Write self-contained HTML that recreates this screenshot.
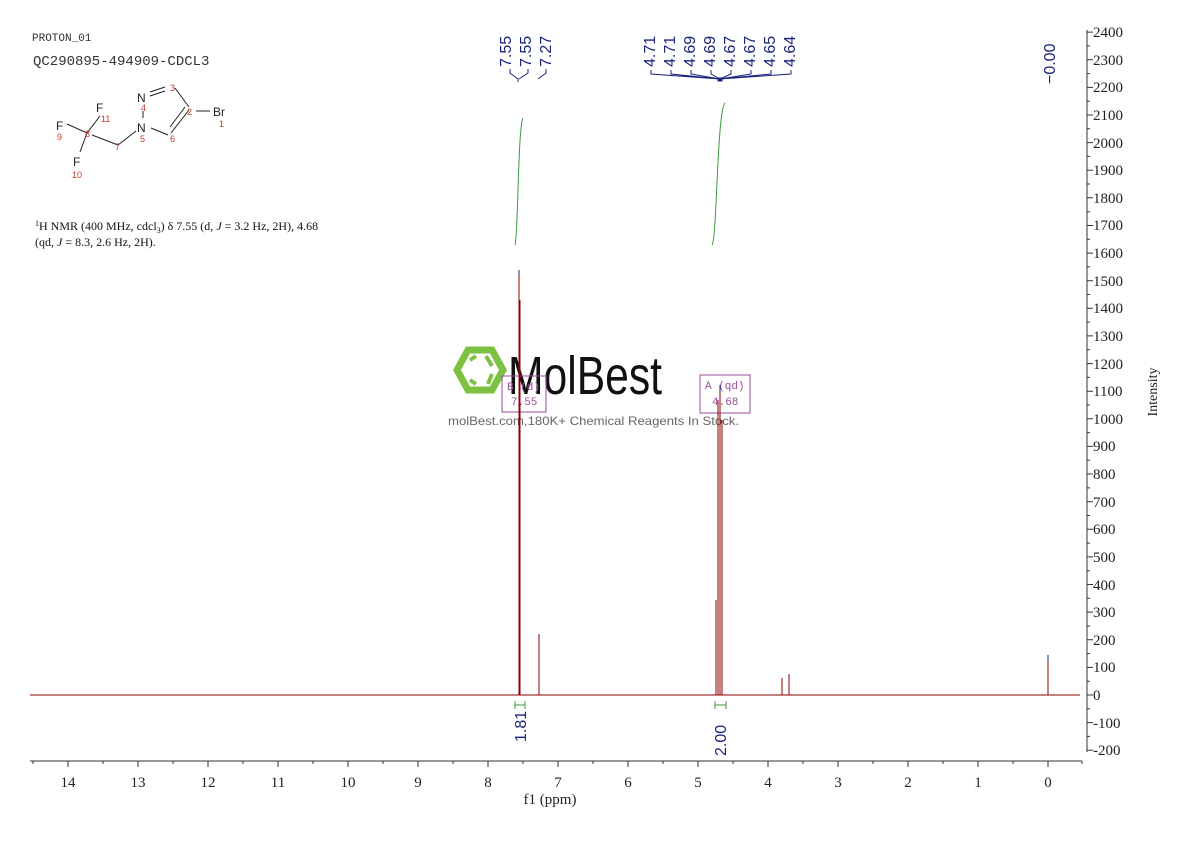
<!DOCTYPE html>
<html><head><meta charset="utf-8"><style>
body{margin:0;background:#fff;width:1190px;height:841px;overflow:hidden}
.se{font-family:"Liberation Serif",serif}
.sa{font-family:"Liberation Sans",sans-serif}
.mo{font-family:"Liberation Mono",monospace}
</style></head><body>
<svg width="1190" height="841" viewBox="0 0 1190 841" xmlns="http://www.w3.org/2000/svg">
<text class="mo" x="32" y="41" font-size="11" fill="#333">PROTON_01</text>
<text class="mo" x="33" y="65" font-size="14" fill="#333">QC290895-494909-CDCL3</text>
<g stroke="#222" stroke-width="1" fill="none">
<line x1="67" y1="124" x2="87" y2="133"/><line x1="87" y1="133" x2="80" y2="152"/><line x1="87" y1="133" x2="100" y2="116"/>
<line x1="92" y1="135" x2="118" y2="145"/><line x1="118" y1="145" x2="136" y2="131"/>
<line x1="151" y1="128" x2="168" y2="135"/><line x1="143" y1="111" x2="143" y2="118"/>
<line x1="150" y1="92" x2="165" y2="87"/><line x1="150" y1="96" x2="165" y2="91"/>
<line x1="175" y1="88" x2="189" y2="107"/><line x1="189" y1="110" x2="171" y2="133"/><line x1="185" y1="107" x2="170" y2="127"/>
<line x1="196" y1="111" x2="210" y2="111"/>
</g>
<g class="sa" font-size="12" fill="#222">
<text class="sa" x="56" y="130">F</text><text class="sa" x="96" y="112">F</text><text class="sa" x="73" y="166">F</text>
<text class="sa" x="137" y="102">N</text><text class="sa" x="137" y="132">N</text><text class="sa" x="213" y="116">Br</text>
</g>
<g font-size="9" fill="#c0392b">
<text class="sa" x="57" y="140">9</text><text class="sa" x="101" y="122">11</text><text class="sa" x="85" y="137">8</text><text class="sa" x="72" y="178">10</text>
<text class="sa" x="115" y="150">7</text><text class="sa" x="140" y="142">5</text><text class="sa" x="141" y="111">4</text><text class="sa" x="170" y="91">3</text>
<text class="sa" x="187" y="115">2</text><text class="sa" x="170" y="142">6</text><text class="sa" x="219" y="127">1</text>
</g>
<text class="se" x="35" y="230" font-size="12" fill="#111"><tspan font-size="8" dy="-4">1</tspan><tspan dy="4">H NMR (400 MHz, cdcl</tspan><tspan font-size="8" dy="3">3</tspan><tspan dy="-3">) δ 7.55 (d, </tspan><tspan font-style="italic">J</tspan> = 3.2 Hz, 2H), 4.68</text>
<text class="se" x="35" y="246" font-size="12" fill="#111">(qd, <tspan font-style="italic">J</tspan> = 8.3, 2.6 Hz, 2H).</text>
<!-- watermark -->
<g stroke="#7dc142" fill="none">
<polygon points="457,370 468,350 492,350 503,370 492,390 468,390" stroke-width="7"/>
<path d="M470,360 L476,356 M486,356 L492,366 M470,380 L476,384 M488,384 L492,374" stroke-width="4"/>
</g>
<text class="sa" x="508" y="394" font-size="54" fill="#111" textLength="154" lengthAdjust="spacingAndGlyphs">MolBest</text>
<rect x="502" y="376" width="44" height="36" fill="none" stroke="#9b4e9b"/>
<text class="mo" x="507" y="390" font-size="11" fill="#9b4e9b">B (d)</text><text class="mo" x="511" y="405" font-size="11" fill="#9b4e9b">7.55</text>
<rect x="700" y="375" width="50" height="38" fill="none" stroke="#9b4e9b"/>
<text class="mo" x="705" y="389" font-size="11" fill="#9b4e9b">A (qd)</text><text class="mo" x="712" y="405" font-size="11" fill="#9b4e9b">4.68</text>
<text class="sa" x="448" y="425" font-size="12" fill="#666" textLength="291" lengthAdjust="spacingAndGlyphs">molBest.com,180K+ Chemical Reagents In Stock.</text>
<!-- spectrum -->
<g stroke="#8b0000" stroke-width="1" fill="none">
<line x1="30" y1="695" x2="1080" y2="695"/>
<line x1="519" y1="695" x2="519" y2="270"/><line x1="520" y1="695" x2="520" y2="300"/>
<line x1="539" y1="695" x2="539" y2="634"/>
<line x1="718" y1="695" x2="718" y2="400"/><line x1="720" y1="695" x2="720" y2="385"/><line x1="722" y1="695" x2="722" y2="420"/><line x1="716" y1="695" x2="716" y2="600"/>
<line x1="782" y1="695" x2="782" y2="678"/><line x1="789" y1="695" x2="789" y2="674"/>
<line x1="1048" y1="695" x2="1048" y2="655"/>
</g>
<g stroke="#1a237e"><line x1="519" y1="270" x2="519" y2="276"/><line x1="720" y1="385" x2="720" y2="392"/><line x1="1048" y1="655" x2="1048" y2="662"/></g>
<g stroke="#3a9a3a" fill="none" stroke-width="1">
<path d="M515,245 C518,240 518,125 523,118"/>
<path d="M712,245 C717,240 717,110 725,103"/>
<path d="M515,705 h10 M515,701 v8 M525,701 v8 M715,705 h11 M715,701 v8 M726,701 v8"/>
</g>
<g font-size="16" fill="#1a237e">
<text class="sa" transform="translate(526,742) rotate(-90)">1.81</text>
<text class="sa" transform="translate(726,756) rotate(-90)">2.00</text>
</g>
<g font-size="16" fill="#1a237e">
<text class="sa" transform="translate(511,67) rotate(-90)">7.55</text>
<text class="sa" transform="translate(531,67) rotate(-90)">7.55</text>
<text class="sa" transform="translate(551,67) rotate(-90)">7.27</text>
<text class="sa" transform="translate(655,67) rotate(-90)">4.71</text>
<text class="sa" transform="translate(675,67) rotate(-90)">4.71</text>
<text class="sa" transform="translate(695,67) rotate(-90)">4.69</text>
<text class="sa" transform="translate(715,67) rotate(-90)">4.69</text>
<text class="sa" transform="translate(735,67) rotate(-90)">4.67</text>
<text class="sa" transform="translate(755,67) rotate(-90)">4.67</text>
<text class="sa" transform="translate(775,67) rotate(-90)">4.65</text>
<text class="sa" transform="translate(795,67) rotate(-90)">4.64</text>
<text class="sa" transform="translate(1055,84) rotate(-90)">−0.00</text>
</g>
<g stroke="#1a237e" fill="none" stroke-width="1">
<path d="M510,69 v4 l8,6 v3 M528,69 v4 l-9,6 M546,69 v4 l-8,6"/>
<path d="M651,70 v4 l69,5 M671,70 v4 l49,5 M691,70 v4 l29,5 M711,70 v4 l9,5 M731,70 v4 l-11,5 M751,70 v4 l-31,5 M771,70 v4 l-51,5 M791,70 v4 l-71,5"/>
<rect x="718" y="78" width="4" height="3" fill="#1a237e"/>
</g>
<!-- x axis -->
<g stroke="#333" stroke-width="1" fill="none">
<line x1="30" y1="761" x2="1082" y2="761"/>
<path d="M68,761v6M138,761v6M208,761v6M278,761v6M348,761v6M418,761v6M488,761v6M558,761v6M628,761v6M698,761v6M768,761v6M838,761v6M908,761v6M978,761v6M1048,761v6
M33,761v3M103,761v3M173,761v3M243,761v3M313,761v3M383,761v3M453,761v3M523,761v3M593,761v3M663,761v3M733,761v3M803,761v3M873,761v3M943,761v3M1013,761v3M1082,761v3"/>
</g>
<g font-size="15" fill="#222" text-anchor="middle">
<text class="se" x="68" y="787">14</text><text class="se" x="138" y="787">13</text><text class="se" x="208" y="787">12</text><text class="se" x="278" y="787">11</text><text class="se" x="348" y="787">10</text><text class="se" x="418" y="787">9</text><text class="se" x="488" y="787">8</text><text class="se" x="558" y="787">7</text><text class="se" x="628" y="787">6</text><text class="se" x="698" y="787">5</text><text class="se" x="768" y="787">4</text><text class="se" x="838" y="787">3</text><text class="se" x="908" y="787">2</text><text class="se" x="978" y="787">1</text><text class="se" x="1048" y="787">0</text>
<text class="se" x="550" y="804">f1 (ppm)</text>
</g>
<text class="se" transform="translate(1157,392) rotate(-90)" font-size="14" fill="#222" text-anchor="middle">Intensity</text>
<line x1="1087" y1="30" x2="1087" y2="752" stroke="#333"/>
<path stroke="#333" fill="none" d="M1087,750.2h6M1087,722.6h6M1087,695h6M1087,667.4h6M1087,639.8h6M1087,612.1h6M1087,584.5h6M1087,556.9h6M1087,529.3h6M1087,501.7h6M1087,474h6M1087,446.4h6M1087,418.8h6M1087,391.2h6M1087,363.6h6M1087,335.9h6M1087,308.3h6M1087,280.7h6M1087,253.1h6M1087,225.5h6M1087,197.8h6M1087,170.2h6M1087,142.6h6M1087,115h6M1087,87.4h6M1087,59.7h6M1087,32.1h6
M1087,736.4h3M1087,708.8h3M1087,681.2h3M1087,653.6h3M1087,626h3M1087,598.3h3M1087,570.7h3M1087,543.1h3M1087,515.5h3M1087,487.9h3M1087,460.2h3M1087,432.6h3M1087,405h3M1087,377.4h3M1087,349.8h3M1087,322.1h3M1087,294.5h3M1087,266.9h3M1087,239.3h3M1087,211.7h3M1087,184h3M1087,156.4h3M1087,128.8h3M1087,101.2h3M1087,73.6h3M1087,45.9h3"/>
<g font-size="15" fill="#222">
<text class="se" x="1093" y="755">-200</text><text class="se" x="1093" y="728">-100</text><text class="se" x="1093" y="700">0</text><text class="se" x="1093" y="672">100</text><text class="se" x="1093" y="645">200</text><text class="se" x="1093" y="617">300</text><text class="se" x="1093" y="590">400</text><text class="se" x="1093" y="562">500</text><text class="se" x="1093" y="534">600</text><text class="se" x="1093" y="507">700</text><text class="se" x="1093" y="479">800</text><text class="se" x="1093" y="451">900</text><text class="se" x="1093" y="424">1000</text><text class="se" x="1093" y="396">1100</text><text class="se" x="1093" y="369">1200</text><text class="se" x="1093" y="341">1300</text><text class="se" x="1093" y="313">1400</text><text class="se" x="1093" y="286">1500</text><text class="se" x="1093" y="258">1600</text><text class="se" x="1093" y="230">1700</text><text class="se" x="1093" y="203">1800</text><text class="se" x="1093" y="175">1900</text><text class="se" x="1093" y="148">2000</text><text class="se" x="1093" y="120">2100</text><text class="se" x="1093" y="92">2200</text><text class="se" x="1093" y="65">2300</text><text class="se" x="1093" y="37">2400</text>
</g>
</svg>
</body></html>
